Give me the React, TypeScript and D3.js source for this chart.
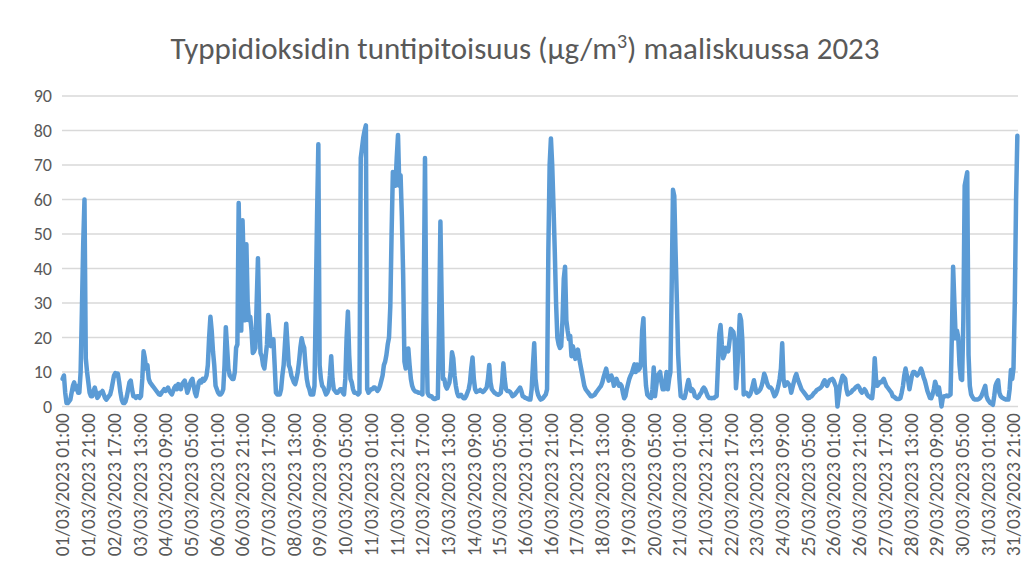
import React from "react";
import * as d3 from "d3";

const W = 1031;
const H = 574;

const titleMain = "Typpidioksidin tuntipitoisuus (µg/m";
const titleSup = "3";
const titleEnd = ") maaliskuussa 2023";

const yTicks = [0, 10, 20, 30, 40, 50, 60, 70, 80, 90];

const tickStep = 20;
const tickLabels = [
  "01/03/2023 01:00", "01/03/2023 21:00", "02/03/2023 17:00", "03/03/2023 13:00",
  "04/03/2023 09:00", "05/03/2023 05:00", "06/03/2023 01:00", "06/03/2023 21:00",
  "07/03/2023 17:00", "08/03/2023 13:00", "09/03/2023 09:00", "10/03/2023 05:00",
  "11/03/2023 01:00", "11/03/2023 21:00", "12/03/2023 17:00", "13/03/2023 13:00",
  "14/03/2023 09:00", "15/03/2023 05:00", "16/03/2023 01:00", "16/03/2023 21:00",
  "17/03/2023 17:00", "18/03/2023 13:00", "19/03/2023 09:00", "20/03/2023 05:00",
  "21/03/2023 01:00", "21/03/2023 21:00", "22/03/2023 17:00", "23/03/2023 13:00",
  "24/03/2023 09:00", "25/03/2023 05:00", "26/03/2023 01:00", "26/03/2023 21:00",
  "27/03/2023 17:00", "28/03/2023 13:00", "29/03/2023 09:00", "30/03/2023 05:00",
  "31/03/2023 01:00", "31/03/2023 21:00",
];

// Hourly NO2 (µg/m³), one row per day, hours 01:00 … 24:00
const d01 = [8, 9, 4, 1, 1, 1.5, 2, 4, 6, 7, 5, 6, 4, 4, 10, 28, 47, 60, 14, 10, 7, 4, 3, 3];
const d02 = [4.5, 5.5, 4, 2.5, 3, 4, 4, 4.5, 3.5, 2.5, 2, 2.5, 3, 3.5, 5, 7, 9, 9.7, 9, 9.5, 7, 4, 2, 1];
const d03 = [1, 1.5, 3, 5, 7, 7.5, 5, 3, 3, 2.5, 3, 3, 2.5, 3, 8, 16, 14, 11, 12, 8, 7, 6.5, 6, 5.5];
const d04 = [5, 4.5, 4, 3.5, 3.4, 4, 4.5, 5, 4.5, 5, 5.5, 4.5, 4, 3.5, 4.5, 5.5, 6, 5, 6.5, 6, 5, 6.5, 7, 7.5];
const d05 = [6, 4, 5, 6.5, 7.5, 8, 6, 4, 3, 5, 7, 7.5, 7, 8, 7.5, 8, 9, 12, 20, 26, 22, 16, 12, 6];
const d06 = [5, 4, 3.5, 3.5, 4, 5, 12, 23, 17, 11, 9, 8.5, 8, 8, 10, 17, 18, 59, 38, 22, 54, 40, 25, 47];
const d07 = [30, 25, 26, 22, 15.5, 16, 17, 30, 43, 25, 15.5, 14.5, 12, 11, 14.5, 18, 26.5, 22, 17.5, 18, 19.5, 12, 4, 3.5];
const d08 = [3.5, 3.5, 5, 9, 12, 18, 24, 18, 12, 11, 9, 8, 7, 6.5, 8, 10, 13, 17, 19.8, 18, 17, 12, 8, 6];
const d09 = [5, 3.5, 3.5, 3.5, 6, 30, 55, 76, 12, 8, 6, 5.5, 4.5, 3.5, 4, 5, 9, 14.6, 8, 5, 4.5, 4, 4, 4.5];
const d10 = [5, 5, 4, 3.5, 8, 20, 27.5, 15, 8, 7, 5, 4, 4, 3.8, 3.5, 4, 72, 75, 78, 80, 81.5, 5, 4, 4.5];
const d11 = [5, 5, 5.5, 5.5, 5, 4.5, 5, 6, 7.5, 9, 12, 13, 15, 18, 20, 29, 50, 68, 66, 64, 72, 78.7, 64, 67];
const d12 = [55, 38, 13, 11, 12, 16.8, 12, 8, 6, 5, 4.5, 4.3, 4.2, 4, 4, 3.8, 3.5, 30, 72, 25, 4, 3.2, 3, 3];
const d13 = [2.5, 2.2, 2.2, 2.5, 2.5, 25, 53.6, 30, 8, 8, 6, 5.2, 6, 7, 10, 15.7, 14, 9, 6, 4, 3, 3, 3.4, 2.8];
const d14 = [2.4, 2.4, 3, 4, 5, 7, 11, 14.2, 8, 5, 4.2, 4.5, 4.5, 4.8, 4.5, 4.2, 4.5, 5, 5.5, 8, 12, 7, 5, 4.5];
const d15 = [4, 3.8, 3.5, 3.4, 3.6, 4, 7, 12.5, 8, 5, 4.5, 4.5, 4.3, 3.8, 3, 3.2, 3.5, 4, 4.5, 5, 5.5, 4.5, 3, 2.8];
const d16 = [2.5, 2.4, 2.2, 2, 2, 5, 12, 18.3, 8, 5, 3.4, 2.6, 2, 2.2, 2.5, 3, 3.5, 5, 45, 70, 77.7, 70, 58, 45];
const d17 = [30, 20, 18, 17, 17.5, 25, 37, 40.5, 25, 22, 19.5, 20.5, 14.6, 17.5, 16, 13.8, 15, 16.5, 14, 12, 10, 8, 6, 5];
const d18 = [4.5, 4, 3.5, 3, 3, 3.2, 3.4, 4, 4.5, 5, 5.5, 6, 7, 8.5, 9.7, 11, 9, 7.5, 8, 9, 8, 6, 7, 8];
const d19 = [7, 6, 6.5, 6, 4, 2.4, 3, 5, 6.5, 8, 9, 9.7, 11, 12.2, 10, 12.2, 10.5, 11, 12.2, 22, 25.6, 12, 6, 3.4];
const d20 = [3, 2.6, 2.5, 5, 11.3, 3, 6, 9, 9.5, 10, 7, 5, 5, 7, 10, 5, 8, 10, 35, 62.8, 61, 45, 31, 15];
const d21 = [8, 3, 2.8, 2.5, 2.5, 4, 6, 7.7, 6, 4.5, 5, 4.5, 3, 2.8, 2.5, 2.8, 3.5, 4, 5, 5.5, 5, 4, 3, 2.5];
const d22 = [2.5, 2.4, 2.5, 2.5, 2.8, 3, 12, 21, 23.6, 18, 14, 15, 17, 16.5, 16, 19, 22.5, 22, 21.6, 19, 5.3, 10, 18, 26.5];
const d23 = [25, 19, 3.5, 4, 4, 3.5, 3, 3.5, 4.5, 6, 7.6, 5.5, 4, 4.2, 4.5, 5, 6, 7.5, 9.5, 8.5, 7, 6, 5.5, 5.5];
const d24 = [5, 4, 3, 3.5, 4.5, 6, 8, 11, 18.3, 8, 6, 6.5, 7, 6.5, 6, 4, 5.5, 7, 8.5, 9.4, 8, 7, 6, 5];
const d25 = [4.5, 4, 3.5, 3, 2.4, 2.5, 2.8, 3, 3.5, 4, 4.3, 4.8, 5, 5.2, 5.5, 6, 7, 7.6, 6.5, 6, 7, 7.6, 7.8, 8];
const d26 = [7.5, 6.5, 5.5, 0, 3, 6, 7.5, 8.9, 8.5, 8, 5, 3.5, 3.8, 4, 4.3, 4.8, 5, 5.5, 5.8, 6, 5.5, 4.5, 4, 4.5];
const d27 = [5, 4.5, 3.5, 3, 2.8, 2.5, 2.4, 6, 14, 8, 6, 6.5, 7, 7, 7.5, 8, 7, 6, 5.5, 5, 4.5, 4, 3, 2.8];
const d28 = [2.5, 2.2, 2.2, 2.2, 2.5, 4, 6, 9, 11, 9, 7.6, 5, 7, 9, 10, 10, 9.5, 9, 9.5, 10, 11, 10, 8.5, 7.5];
const d29 = [6, 4.5, 3.5, 2.5, 2.4, 3.5, 5, 7.2, 6, 3.5, 5.5, 3, 0, 2.5, 3, 3, 3.2, 3, 3.2, 3.5, 20, 40.5, 30, 19.8];
const d30 = [22, 20, 12, 8, 7.7, 25.6, 64, 66, 67.9, 15, 6, 3.5, 2.8, 2.2, 2, 2, 2, 2.2, 2.5, 3, 4, 5, 6, 3];
const d31 = [2, 1.5, 1, 0.8, 0.5, 3, 6, 7, 7.6, 4, 3, 2.6, 2.4, 2.2, 2, 2, 2, 5, 10.6, 8, 11, 30, 60, 78.5];

const no2: number[] = [
  ...d01, ...d02, ...d03, ...d04, ...d05, ...d06, ...d07, ...d08, ...d09, ...d10,
  ...d11, ...d12, ...d13, ...d14, ...d15, ...d16, ...d17, ...d18, ...d19, ...d20,
  ...d21, ...d22, ...d23, ...d24, ...d25, ...d26, ...d27, ...d28, ...d29, ...d30, ...d31,
];

const FONT = "Carlito, Calibri, Lato, 'Open Sans', sans-serif";
const TEXT = "#595959";

export default function App() {
  const plotL = 62;
  const plotR = 1018;
  const plotT = 96;
  const plotB = 406.5;

  const x = d3.scaleBand<number>().domain(d3.range(no2.length)).range([plotL, plotR]).padding(0);
  const y = d3.scaleLinear().domain([0, 90]).range([plotB, plotT]);
  const cx = (i: number) => (x(i) as number) + x.bandwidth() / 2;

  const line = d3
    .line<number>()
    .x((_, i) => cx(i))
    .y((d) => y(d))
    .curve(d3.curveLinear);

  return (
    <div style={{ position: "absolute", left: 0, top: 0 }}>
      <svg width={W} height={H} viewBox={`0 0 ${W} ${H}`} style={{ display: "block", background: "#fff" }}>
        <rect x={0} y={0} width={W} height={H} fill="#ffffff" />
        <text x={525} y={59} textAnchor="middle" fontFamily={FONT} fontSize={31} fontWeight={300} fill={TEXT}>
          {titleMain}
          <tspan dy={-11} fontSize={20}>{titleSup}</tspan>
          <tspan dy={11}>{titleEnd}</tspan>
        </text>
        {yTicks.map((t) => (
          <g key={t}>
            <line x1={plotL} x2={plotR} y1={y(t)} y2={y(t)} stroke="#d9d9d9" strokeWidth={1.5} />
            <text x={52} y={y(t)} dy="0.35em" textAnchor="end" fontFamily={FONT} fontSize={18} fill={TEXT}>
              {t}
            </text>
          </g>
        ))}
        <path d={line(no2) || ""} fill="none" stroke="#5b9bd5" strokeWidth={4.5} strokeLinejoin="round" strokeLinecap="round" />
        {tickLabels.map((lab, k) => {
          const xi = cx(k * tickStep);
          return (
            <text
              key={lab}
              transform={`translate(${xi},413) rotate(-90)`}
              dy="0.35em"
              textAnchor="end"
              fontFamily={FONT}
              fontSize={19.5}
              fill={TEXT}
            >
              {lab}
            </text>
          );
        })}
      </svg>
    </div>
  );
}
